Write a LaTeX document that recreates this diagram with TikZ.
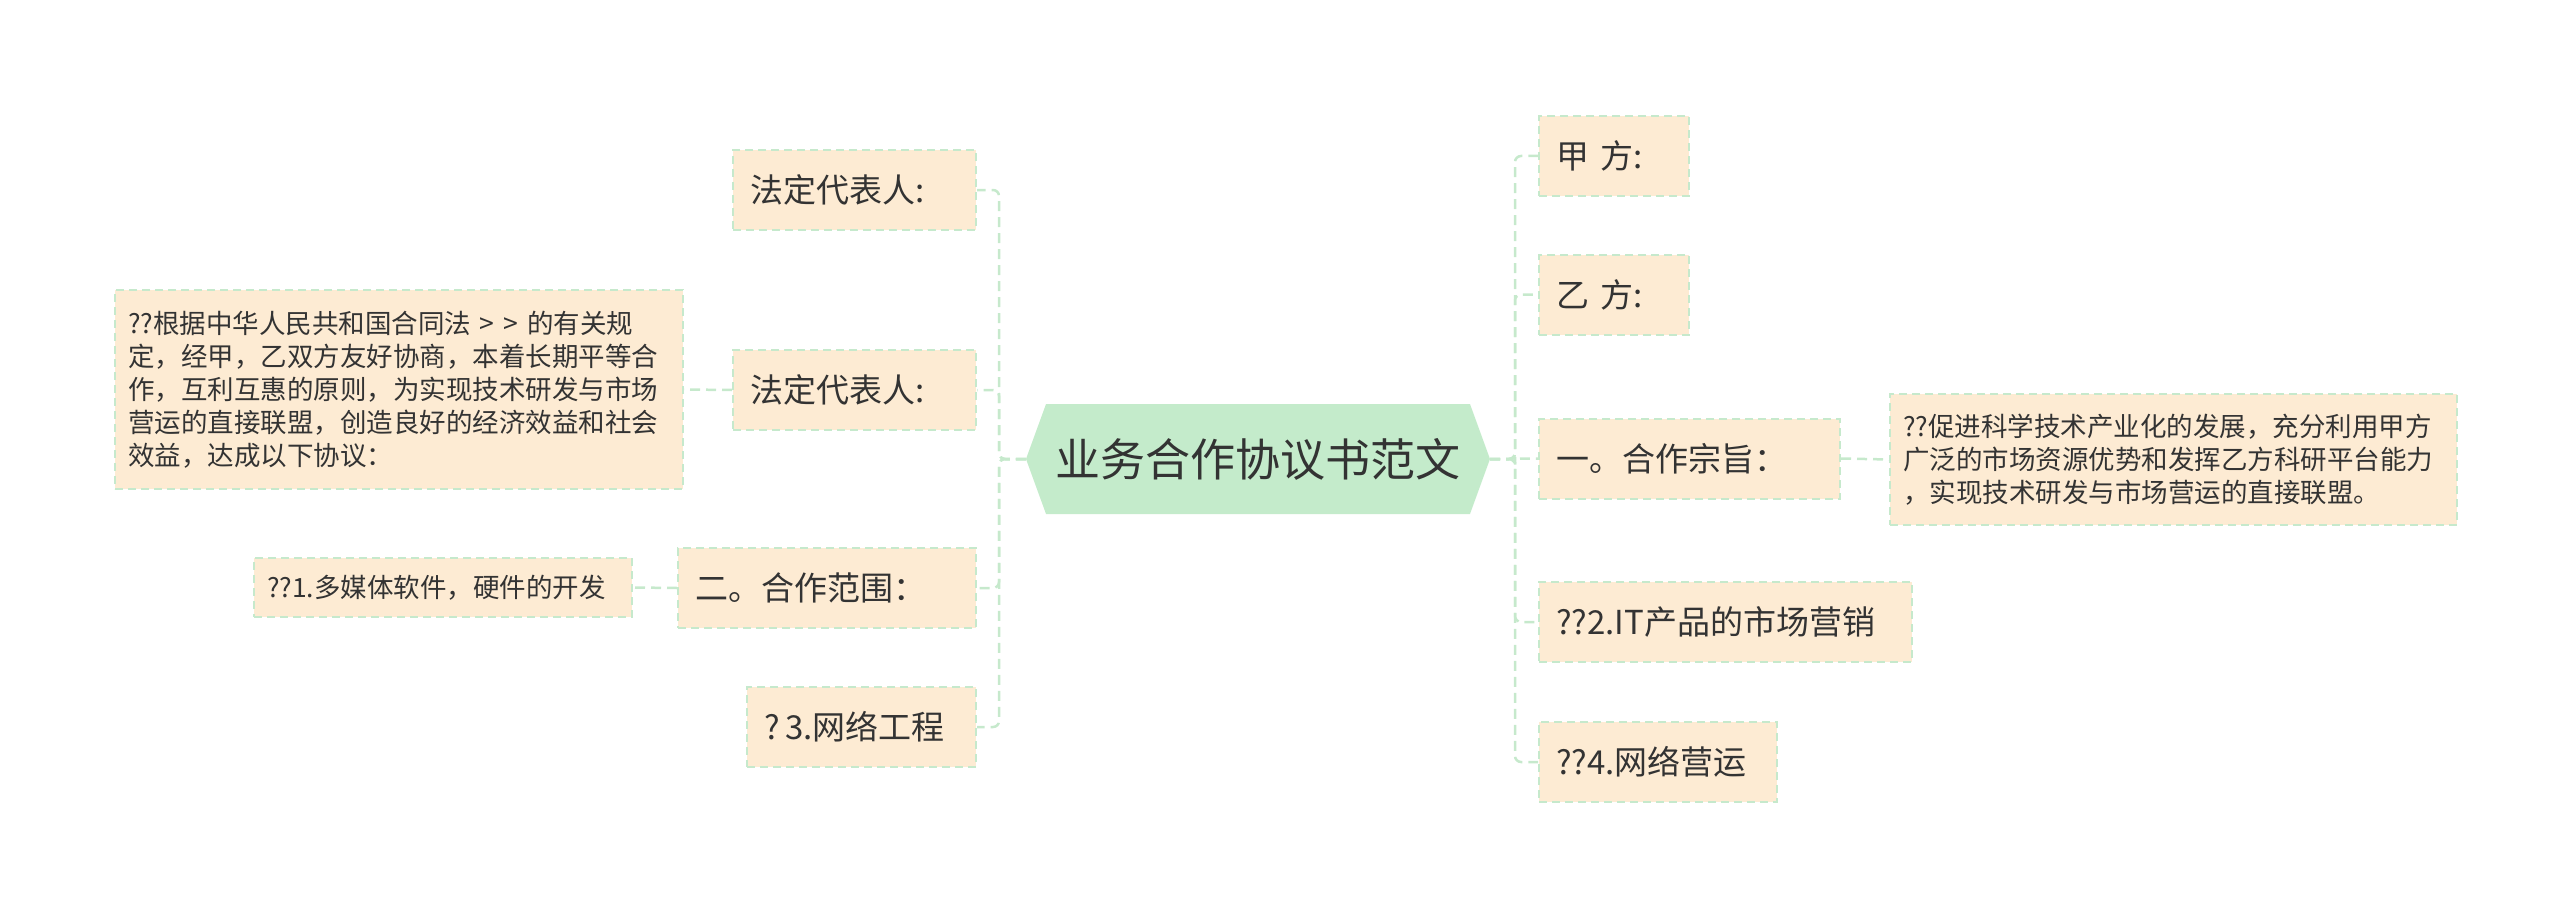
\documentclass[tikz,border=0pt]{standalone}
\usepackage{fontspec}
\setmainfont{Noto Sans CJK SC}
\usetikzlibrary{shapes.symbols, positioning}
\definecolor{topicfill}{HTML}{FDEBD3}
\definecolor{linegreen}{HTML}{C6E9CC}
\definecolor{rootfill}{HTML}{C4EBCB}
\definecolor{inkgray}{HTML}{333333}
\tikzstyle{topic} = [rectangle, draw=linegreen, dash pattern=on 8pt off 5pt, line width=2pt, fill=topicfill, text=inkgray, font=\fontsize{33}{40}\selectfont, align=left, minimum height=80pt, inner xsep=17pt, inner ysep=0pt]
\tikzstyle{detail} = [rectangle, draw=linegreen, dash pattern=on 8pt off 5pt, line width=2pt, fill=topicfill, text=inkgray, font=\fontsize{26.5}{33}\selectfont, align=left, inner xsep=13pt, inner ysep=0pt]
\tikzstyle{link} = [draw=linegreen, dash pattern=on 10pt off 6pt, line width=2.5pt, rounded corners=6pt]
\begin{document}
\begin{tikzpicture}[x=1pt, y=-1pt]
\useasboundingbox (0,0) rectangle (2560,915);
% root
\node [signal, signal to=west and east, signal pointer angle=140, fill=rootfill, minimum width=464pt, minimum height=110pt, inner sep=0pt, text=inkgray, font=\fontsize{45}{50}\selectfont] (root) at (1258,459) {业务合作协议书范文};
% left side
\node [topic, text width=209pt] (leg1) at (854.5,190) {法定代表人:};
\node [topic, text width=209pt] (leg2) at (854.5,390) {法定代表人:};
\node [topic, text width=264pt] (scope) at (827,588) {二。合作范围：};
\node [topic, text width=195pt] (net) at (861.5,727) {?\,3.网络工程};
\node [detail, minimum height=199pt, text width=542pt] (basis) at (399,389.5) {??根据中华人民共和国合同法 > > 的有关规\\定，经甲，乙双方友好协商，本着长期平等合\\作，互利互惠的原则，为实现技术研发与市场\\营运的直接联盟，创造良好的经济效益和社会\\效益，达成以下协议：};
\node [detail, minimum height=59pt, text width=352pt] (media) at (443,587.5) {??1.多媒体软件，硬件的开发};
% right side
\node [topic, text width=116pt] (partA) at (1614,156) {甲 方:};
\node [topic, text width=116pt] (partB) at (1614,294.5) {乙 方:};
\node [topic, text width=267pt] (aim) at (1689.5,458.5) {一。合作宗旨：};
\node [topic, text width=339pt] (itmkt) at (1725.5,622) {??2.IT产品的市场营销};
\node [topic, text width=204pt] (netop) at (1658,762) {??4.网络营运};
\node [detail, minimum height=131pt, text width=541pt] (aimtext) at (2173.5,459.5) {??促进科学技术产业化的发展，充分利用甲方\\广泛的市场资源优势和发挥乙方科研平台能力\\，实现技术研发与市场营运的直接联盟。};
% connectors
\foreach \n in {partA, partB, aim, itmkt, netop}
  \draw [link] (root.east) -- (1515,459) |- (\n.west);
\foreach \n in {leg1, leg2, scope, net}
  \draw [link] (root.west) -- (999,459) |- (\n.east);
\draw [link] (leg2.west) -- (basis.east);
\draw [link] (scope.west) -- (media.east);
\draw [link] (aim.east) -- (aimtext.west);
\end{tikzpicture}
\end{document}
